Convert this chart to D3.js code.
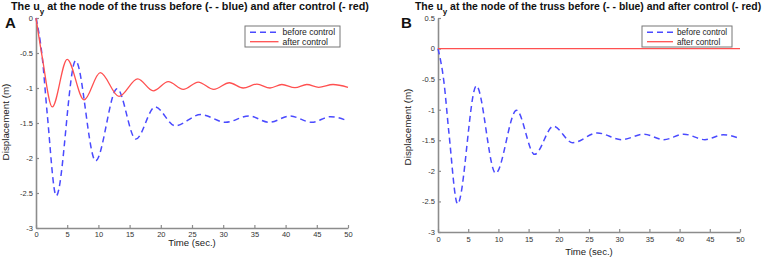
<!doctype html>
<html>
  <head>
    <meta charset="utf-8">
    <title>Truss displacement</title>
    <script src="https://d3js.org/d3.v7.min.js"></script>
    <style>
      body { margin: 0; background: #fff; }
      text { font-family: "Liberation Sans", Arial, sans-serif; }
    </style>
  </head>
  <body>
    <script>
      // time (s) and displacement (m), before control (blue dashed)
      const timeBefore = [0, 1.0, 1.8, 3.25, 6.35, 9.55, 13.0, 16.0, 19.1, 22.3, 26.4, 30.4, 34.1, 37.4, 40.7, 44.2, 47.2, 50];
      const dispBefore = [0, -0.56, -1.37, -2.54, -0.61, -2.04, -1.01, -1.73, -1.27, -1.54, -1.38, -1.49, -1.40, -1.49, -1.40, -1.49, -1.41, -1.47];

      // after control, panel A (red)
      const timeAfterA = [0, 1.0, 2.6, 5.0, 7.7, 10.3, 13.3, 16.3, 18.8, 21.2, 23.6, 26.0, 28.5, 31.0, 33.2, 35.4, 37.5, 39.4, 41.5, 43.4, 45.3, 47.6, 50];
      const dispAfterA = [0, -0.56, -1.27, -0.59, -1.17, -0.78, -1.12, -0.87, -1.04, -0.91, -1.02, -0.915, -1.02, -0.925, -1.0, -0.945, -1.0, -0.95, -0.995, -0.95, -0.99, -0.95, -0.99];

      // after control, panel B (red, stays at zero)
      const timeAfterB = [0, 50];
      const dispAfterB = [0, 0];

      const xTicks = [0, 5, 10, 15, 20, 25, 30, 35, 40, 45, 50];
      const yTicksA = [0, -0.5, -1, -1.5, -2, -2.5, -3];
      const yTicksB = [0.5, 0, -0.5, -1, -1.5, -2, -2.5, -3];
      const legendLabels = ['before control', 'after control'];

      const W = 765, H = 261;
      const blue = '#4a4aff';
      const red = '#ff5050';
      const axisGray = '#8c8c8c';

      const svg = d3.select('body').append('svg')
          .attr('width', W)
          .attr('height', H);

      const zip = (ts, vs) => ts.map((t, i) => [t, vs[i]]);

      const panels = [
        {
          letter: 'A', letterX: 5, letterY: 28,
          titleX: 11, titleW: 359,
          x0: 36, x1: 348, yTop: 18, yBot: 228, yDomain: [-3, 0], yTicks: yTicksA,
          red: zip(timeAfterA, dispAfterA),
          xTickY: 236.5, xLabelY: 246, xLabelSize: 9.6,
          yLabelX: 9, yLabelY: 122,
          legend: {x: 245, y: 26, w: 95, h: 21, font: 8.6, tx: 37.5}
        },
        {
          letter: 'B', letterX: 401, letterY: 27.5,
          titleX: 415, titleW: 347,
          x0: 438, x1: 740, yTop: 18, yBot: 232, yDomain: [-3, 0.5], yTicks: yTicksB,
          red: zip(timeAfterB, dispAfterB),
          xTickY: 242, xLabelY: 255, xLabelSize: 9.6,
          yLabelX: 411, yLabelY: 127,
          legend: {x: 642, y: 26, w: 90, h: 21, font: 8.2, tx: 35}
        }
      ];

      panels.forEach(p => {
        const g = svg.append('g');

        const x = d3.scaleLinear().domain([0, 50]).range([p.x0, p.x1]);
        const y = d3.scaleLinear().domain(p.yDomain).range([p.yBot, p.yTop]);

        // title with subscript
        const title = g.append('text')
            .attr('x', p.titleX)
            .attr('y', 10)
            .attr('font-weight', 'bold')
            .attr('font-size', 10)
            .attr('fill', '#111');
        title.append('tspan').text('The u');
        title.append('tspan').attr('dy', 4).attr('font-size', 8).text('y');
        title.append('tspan').attr('dy', -4).text(' at the node of the truss before (- - blue) and after control (- red)');
        const tw = title.node().getBBox().width;
        title.attr('font-size', 10 * p.titleW / tw);

        g.append('text')
            .attr('x', p.letterX)
            .attr('y', p.letterY)
            .attr('font-weight', 'bold')
            .attr('font-size', 15)
            .attr('fill', '#111')
            .text(p.letter);

        // axes
        const xAxis = g.append('g')
            .attr('transform', `translate(0,${p.yBot})`)
            .call(d3.axisBottom(x).tickValues(xTicks).tickSizeInner(-3).tickSizeOuter(0).tickPadding(0)
              .tickFormat(d => String(d)));
        const yAxis = g.append('g')
            .attr('transform', `translate(${p.x0},0)`)
            .call(d3.axisLeft(y).tickValues(p.yTicks).tickSizeInner(-3).tickSizeOuter(0).tickPadding(3)
              .tickFormat(d => String(d)));

        [xAxis, yAxis].forEach(a => {
          a.select('.domain').attr('stroke', axisGray).attr('stroke-width', 1.6);
          a.selectAll('.tick line').attr('stroke', axisGray).attr('stroke-width', 1.2);
          a.selectAll('.tick text')
              .attr('fill', '#333')
              .attr('font-size', 7.5)
              .attr('font-family', '"Liberation Sans", Arial, sans-serif');
        });
        xAxis.selectAll('.tick text')
            .attr('y', p.xTickY - p.yBot)
            .attr('dy', null);

        g.append('text')
            .attr('x', (p.x0 + p.x1) / 2)
            .attr('y', p.xLabelY)
            .attr('text-anchor', 'middle')
            .attr('font-size', p.xLabelSize)
            .attr('fill', '#222')
            .text('Time (sec.)');

        g.append('text')
            .attr('transform', `translate(${p.yLabelX},${p.yLabelY}) rotate(-90)`)
            .attr('text-anchor', 'middle')
            .attr('font-size', 9.8)
            .attr('fill', '#222')
            .text('Displacement (m)');

        const line = d3.line()
            .x(d => x(d[0]))
            .y(d => y(d[1]))
            .curve(d3.curveMonotoneX);

        g.append('path')
            .datum(zip(timeBefore, dispBefore))
            .attr('d', line)
            .attr('fill', 'none')
            .attr('stroke', blue)
            .attr('stroke-width', 1.5)
            .attr('stroke-dasharray', '6,4');

        g.append('path')
            .datum(p.red)
            .attr('d', line)
            .attr('fill', 'none')
            .attr('stroke', red)
            .attr('stroke-width', 1.3);

        // legend
        const L = p.legend;
        const lg = g.append('g').attr('transform', `translate(${L.x},${L.y})`);
        lg.append('rect')
            .attr('width', L.w)
            .attr('height', L.h)
            .attr('fill', '#fff')
            .attr('stroke', '#777')
            .attr('stroke-width', 1);
        legendLabels.forEach((lab, i) => {
          const ly = 6.3 + i * 9.4;
          lg.append('line')
              .attr('x1', 5).attr('x2', L.tx - 4)
              .attr('y1', ly).attr('y2', ly)
              .attr('stroke', i === 0 ? blue : red)
              .attr('stroke-width', i === 0 ? 1.5 : 1.3)
              .attr('stroke-dasharray', i === 0 ? '6,4' : null);
          lg.append('text')
              .attr('x', L.tx)
              .attr('y', ly + 3)
              .attr('font-size', L.font)
              .attr('fill', '#222')
              .text(lab);
        });
      });
    </script>
  </body>
</html>
